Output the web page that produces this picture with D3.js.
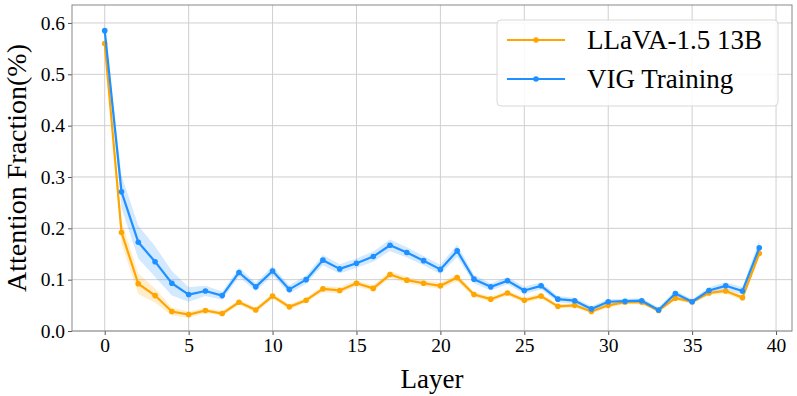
<!DOCTYPE html>
<html>
<head>
<meta charset="utf-8">
<script src="https://cdn.jsdelivr.net/npm/d3@7"></script>
<style>
  body { margin: 0; background: #fff; }
  svg text { font-family: "Liberation Serif", "Times New Roman", serif; fill: #000; }
</style>
</head>
<body>
<div id="chart"></div>
<script>
var width = 797
var height = 396

// layer index 0..39
var layers = d3.range(0, 40)

var llava = [0.560, 0.192, 0.092, 0.069, 0.038, 0.032, 0.040, 0.034, 0.056, 0.041,
             0.068, 0.047, 0.060, 0.082, 0.079, 0.093, 0.083, 0.110, 0.099, 0.093,
             0.088, 0.104, 0.071, 0.062, 0.074, 0.060, 0.068, 0.048, 0.050, 0.038,
             0.050, 0.056, 0.056, 0.040, 0.064, 0.057, 0.074, 0.078, 0.065, 0.151]
var llavaStd = [0.004, 0.022, 0.020, 0.014, 0.008, 0.006, 0.005, 0.005, 0.005, 0.005,
                0.005, 0.005, 0.005, 0.006, 0.006, 0.006, 0.006, 0.007, 0.006, 0.006,
                0.006, 0.007, 0.005, 0.005, 0.005, 0.005, 0.005, 0.004, 0.004, 0.004,
                0.004, 0.004, 0.004, 0.004, 0.004, 0.004, 0.005, 0.005, 0.005, 0.008]

var vig = [0.585, 0.271, 0.173, 0.135, 0.093, 0.071, 0.078, 0.069, 0.114, 0.086,
           0.117, 0.081, 0.100, 0.138, 0.121, 0.132, 0.145, 0.167, 0.153, 0.137,
           0.120, 0.156, 0.101, 0.086, 0.098, 0.079, 0.088, 0.062, 0.059, 0.043,
           0.057, 0.058, 0.059, 0.041, 0.073, 0.057, 0.079, 0.088, 0.078, 0.162]
var vigStd = [0.005, 0.032, 0.032, 0.030, 0.024, 0.014, 0.010, 0.008, 0.009, 0.008,
              0.009, 0.008, 0.008, 0.010, 0.009, 0.009, 0.010, 0.011, 0.010, 0.009,
              0.009, 0.012, 0.008, 0.007, 0.007, 0.007, 0.007, 0.006, 0.006, 0.005,
              0.005, 0.005, 0.005, 0.005, 0.006, 0.005, 0.006, 0.007, 0.007, 0.015]

var seriesNames = ["LLaVA-1.5 13B", "VIG Training"]
var seriesColors = ["#FFA500", "#1E90FF"]

var xTicks = [0, 5, 10, 15, 20, 25, 30, 35, 40]
var yTicks = [0.0, 0.1, 0.2, 0.3, 0.4, 0.5, 0.6]

var margin = {left: 72, right: 5, top: 5, bottom: 65}

var svg = d3.select("#chart")
    .append("svg")
    .attr("width", width)
    .attr("height", height)

var x = d3.scaleLinear()
    .domain([-1.95, 40.95])
    .range([margin.left, width - margin.right])

var y = d3.scaleLinear()
    .domain([0, 0.635])
    .range([height - margin.bottom, margin.top])

// grid
svg.append("g")
    .selectAll("line")
    .data(xTicks)
    .enter()
    .append("line")
    .attr("x1", d => x(d)).attr("x2", d => x(d))
    .attr("y1", y(0)).attr("y2", margin.top)
    .attr("stroke", "#cfcfcf")
    .attr("stroke-width", 1)

svg.append("g")
    .selectAll("line")
    .data(yTicks)
    .enter()
    .append("line")
    .attr("x1", margin.left).attr("x2", width - margin.right)
    .attr("y1", d => y(d)).attr("y2", d => y(d))
    .attr("stroke", "#cfcfcf")
    .attr("stroke-width", 1)

// axes
var xAxis = svg.append("g")
    .attr("transform", "translate(0," + y(0) + ")")
    .call(d3.axisBottom(x).tickValues(xTicks).tickSize(4).tickPadding(3).tickFormat(d3.format("d")))
var yAxis = svg.append("g")
    .attr("transform", "translate(" + margin.left + ",0)")
    .call(d3.axisLeft(y).tickValues(yTicks).tickSize(4).tickPadding(3).tickFormat(d3.format(".1f")))

svg.selectAll(".domain").remove()
svg.selectAll(".tick line").attr("stroke", "#555")
svg.selectAll(".tick text")
    .style("font-family", "'Liberation Serif', serif")
    .style("font-size", "19.5px")
    .attr("fill", "#000")

// frame
svg.append("rect")
    .attr("x", margin.left)
    .attr("y", margin.top)
    .attr("width", width - margin.right - margin.left)
    .attr("height", y(0) - margin.top)
    .attr("fill", "none")
    .attr("stroke", "#888")
    .attr("stroke-width", 1)

// bands and lines
var data = [
    {mean: llava, std: llavaStd},
    {mean: vig, std: vigStd}
]

var area = d3.area()
    .x((d, i) => x(layers[i]))
    .y0(d => y(d[0] - d[1]))
    .y1(d => y(d[0] + d[1]))

var line = d3.line()
    .x((d, i) => x(layers[i]))
    .y(d => y(d))

data.forEach(function(s, k) {
    svg.append("path")
        .attr("d", area(s.mean.map((m, i) => [m, s.std[i]])))
        .attr("fill", seriesColors[k])
        .attr("fill-opacity", 0.2)
        .attr("stroke", "none")
})

data.forEach(function(s, k) {
    svg.append("path")
        .attr("d", line(s.mean))
        .attr("fill", "none")
        .attr("stroke", seriesColors[k])
        .attr("stroke-width", 2.2)
        .attr("stroke-linejoin", "round")

    svg.append("g")
        .selectAll("circle")
        .data(s.mean)
        .enter()
        .append("circle")
        .attr("cx", (d, i) => x(layers[i]))
        .attr("cy", d => y(d))
        .attr("r", 2.8)
        .attr("fill", seriesColors[k])
})

// axis labels
svg.append("text")
    .attr("x", (margin.left + width - margin.right) / 2)
    .attr("y", 388)
    .attr("text-anchor", "middle")
    .style("font-size", "27px")
    .text("Layer")

svg.append("text")
    .attr("transform", "translate(26," + ((margin.top + y(0)) / 2) + ") rotate(-90)")
    .attr("text-anchor", "middle")
    .style("font-size", "28px")
    .text("Attention Fraction(%)")

// legend
var legend = svg.append("g")
    .attr("transform", "translate(497,20)")

legend.append("rect")
    .attr("width", 281)
    .attr("height", 86)
    .attr("rx", 4)
    .attr("fill", "#fff")
    .attr("fill-opacity", 0.85)
    .attr("stroke", "#d8d8d8")

seriesNames.forEach(function(name, k) {
    var ly = 20 + k * 39
    legend.append("line")
        .attr("x1", 10).attr("x2", 68)
        .attr("y1", ly).attr("y2", ly)
        .attr("stroke", seriesColors[k])
        .attr("stroke-width", 2.2)
    legend.append("circle")
        .attr("cx", 39).attr("cy", ly).attr("r", 2.8)
        .attr("fill", seriesColors[k])
    legend.append("text")
        .attr("x", 90)
        .attr("y", ly + 9)
        .style("font-size", "27px")
        .text(name)
})
</script>
</body>
</html>
